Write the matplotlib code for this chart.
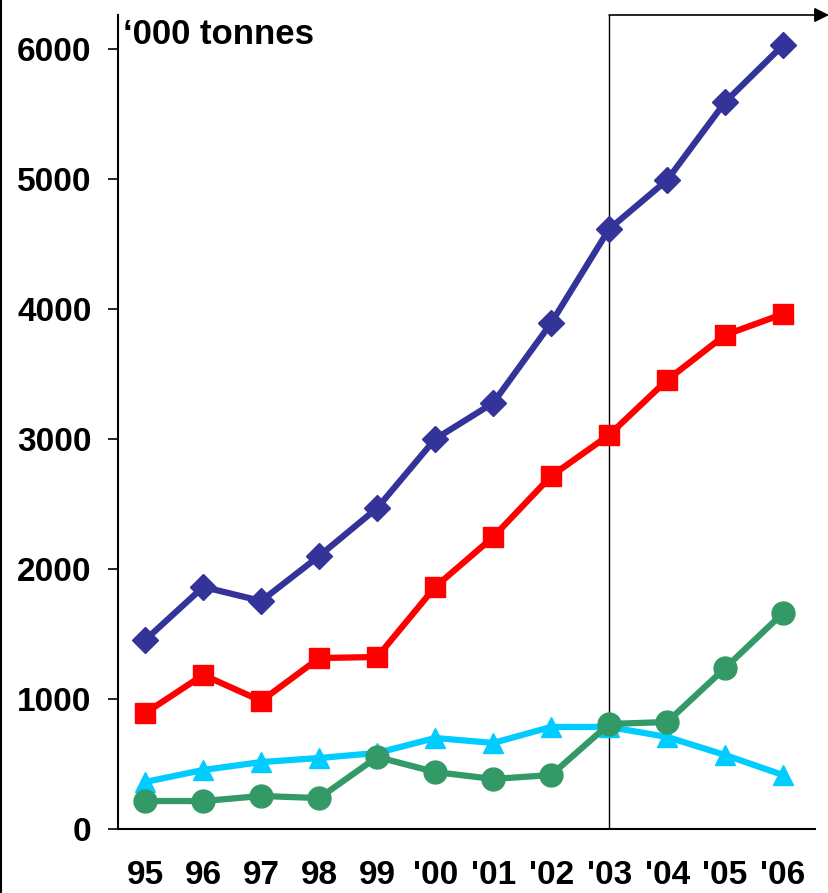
import matplotlib.pyplot as plt
from matplotlib import font_manager
from matplotlib.lines import Line2D

years = ["95", "96", "97", "98", "99", "'00", "'01", "'02", "'03", "'04", "'05", "'06"]

# '000 tonnes per year
blue_vals = [1454, 1862, 1754, 2100, 2469, 3000, 3277, 3892, 4615, 4992, 5592, 6030]
red_vals = [892, 1185, 985, 1315, 1323, 1862, 2246, 2715, 3031, 3454, 3800, 3962]
cyan_vals = [362, 454, 515, 546, 585, 700, 662, 785, 785, 708, 569, 415]
green_vals = [215, 215, 254, 238, 554, 438, 385, 415, 808, 823, 1238, 1662]

# condensed face for the tick numbers if there is one
names = {f.name for f in font_manager.fontManager.ttflist}
if "Liberation Sans Narrow" in names:
    tick_font, tick_size = ["Liberation Sans Narrow", "DejaVu Sans"], 28
else:
    tick_font, tick_size = ["Liberation Sans", "DejaVu Sans"], 24

W, H = 829, 893
fig = plt.figure(figsize=(W / 100, H / 100), dpi=100)
ax = fig.add_axes([118 / W, 64 / H, (815 - 118) / W, (829 - 15) / H])

x = list(range(len(years)))
ax.plot(x, cyan_vals, color="#00CCFF", lw=4.5, marker="^", ms=15, zorder=3)
ax.plot(x, green_vals, color="#339966", lw=4.5, marker="o", ms=16.5, zorder=4)
ax.plot(x, red_vals, color="#FF0000", lw=4.5, marker="s", ms=14, zorder=3)
ax.plot(x, blue_vals, color="#333399", lw=4.5, marker="D", ms=13, zorder=3)

ax.set_xlim(-0.47, 11.55)
ax.set_ylim(0, (829 - 15) / 0.13)
ax.set_yticks([0, 1000, 2000, 3000, 4000, 5000, 6000])
ax.set_xticks(x)
ax.set_xticklabels(years)

for s in ["top", "right"]:
    ax.spines[s].set_visible(False)
for s in ["left", "bottom"]:
    ax.spines[s].set_linewidth(1.5)

ax.tick_params(axis="y", length=7, width=1.2, pad=12, labelsize=tick_size)
ax.tick_params(axis="x", length=0, pad=22, labelsize=tick_size)
for lab in ax.get_xticklabels() + ax.get_yticklabels():
    lab.set_fontweight("bold")
    lab.set_family(tick_font)

# marker line for '03 and the arrow running right from it
ax.axvline(8, color="black", lw=1, zorder=2)
top_y = 1 - 15 / H
ax.annotate("", xy=(1.0, top_y), xycoords="figure fraction",
            xytext=(8, ax.get_ylim()[1]), textcoords="data",
            arrowprops=dict(arrowstyle="-|>", color="black", lw=1.2,
                            mutation_scale=22, shrinkA=0, shrinkB=0,
                            edgecolor="#555555", facecolor="black"),
            annotation_clip=False)

ax.text(123 / W, 1 - 44 / H, "\u2018000 tonnes", fontsize=25, fontweight="bold",
        family=["Liberation Sans", "DejaVu Sans"], va="baseline", ha="left",
        transform=fig.transFigure)

fig.add_artist(Line2D([0.6 / W, 0.6 / W], [0, 1], color="black", lw=1.5,
                      transform=fig.transFigure))

fig.savefig("out.png", dpi=100)
